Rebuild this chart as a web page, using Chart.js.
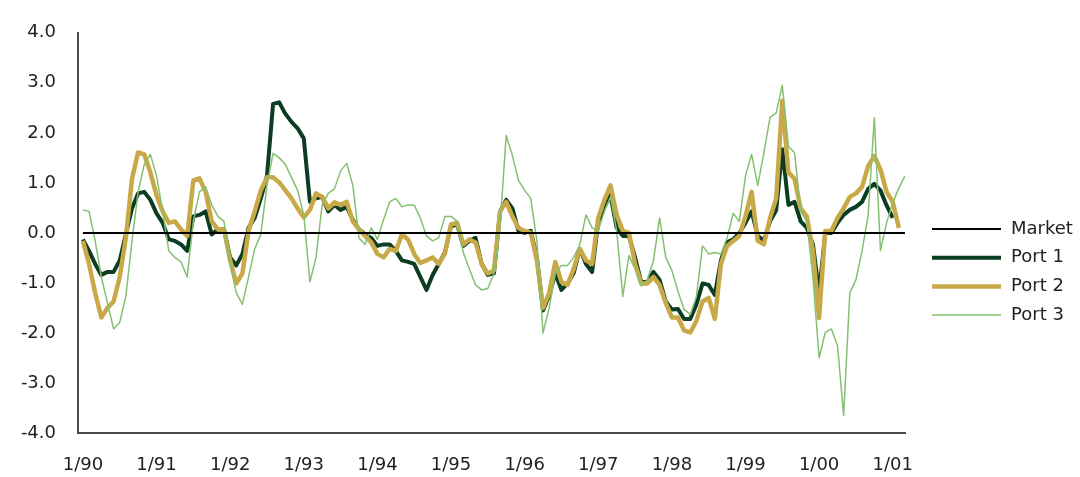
<!DOCTYPE html>
<html>
<head>
<meta charset="utf-8">
<script src="https://cdn.jsdelivr.net/npm/chart.js@4.4.1/dist/chart.umd.min.js"></script>
<style>
  html, body { margin: 0; padding: 0; background: #fff; }
  #wrap { width: 1080px; height: 477px; position: relative; }
</style>
</head>
<body>
<div id="wrap"><canvas id="chart"></canvas></div>
<script>
// monthly excess returns vs market, month index 0 = 1/90
const tickMonths = [0, 12, 24, 36, 48, 60, 72, 84, 96, 108, 120, 132];
const tickLabels = ['1/90', '1/91', '1/92', '1/93', '1/94', '1/95', '1/96', '1/97', '1/98', '1/99', '1/00', '1/01'];

// market is the benchmark, flat at zero over the whole period
const marketMonths = [0, 134];
const market = [0, 0];

const port1 = [
  -0.13, -0.36, -0.62, -0.84, -0.78, -0.78, -0.55, -0.03, 0.49, 0.79, 0.82, 0.66,
  0.39, 0.20, -0.13, -0.16, -0.23, -0.36, 0.33, 0.36, 0.43, -0.03, 0.07, 0.07,
  -0.49, -0.65, -0.42, 0.10, 0.30, 0.69, 1.14, 2.58, 2.61, 2.38, 2.22, 2.09,
  1.89, 0.62, 0.69, 0.72, 0.43, 0.56, 0.46, 0.52, 0.26, 0.07, -0.03, -0.10,
  -0.26, -0.23, -0.23, -0.36, -0.55, -0.58, -0.62, -0.88, -1.14, -0.84, -0.62, -0.39,
  0.13, 0.17, -0.26, -0.16, -0.10, -0.62, -0.84, -0.81, 0.43, 0.66, 0.49, 0.04,
  0.00, 0.04, -0.49, -1.55, -1.25, -0.81, -1.14, -1.01, -0.80, -0.32, -0.62, -0.78,
  0.23, 0.52, 0.75, 0.10, -0.06, -0.06, -0.49, -0.98, -0.98, -0.78, -0.94, -1.37,
  -1.53, -1.52, -1.72, -1.72, -1.43, -1.01, -1.04, -1.24, -0.55, -0.19, -0.13, 0.00,
  0.20, 0.43, -0.06, -0.16, 0.23, 0.45, 1.67, 0.56, 0.62, 0.23, 0.10, -0.23,
  -1.20, 0.00, 0.00, 0.20, 0.36, 0.46, 0.52, 0.62, 0.88, 0.98, 0.85, 0.55,
  0.30
];

const port2 = [
  -0.16, -0.62, -1.20, -1.69, -1.50, -1.37, -0.88, -0.10, 1.08, 1.61, 1.57, 1.21,
  0.75, 0.43, 0.20, 0.23, 0.07, -0.06, 1.05, 1.09, 0.82, 0.23, 0.07, 0.07,
  -0.55, -1.01, -0.81, 0.04, 0.43, 0.85, 1.11, 1.11, 1.01, 0.85, 0.69, 0.49,
  0.31, 0.46, 0.79, 0.72, 0.49, 0.61, 0.56, 0.62, 0.23, 0.07, -0.06, -0.19,
  -0.42, -0.49, -0.32, -0.36, -0.03, -0.13, -0.42, -0.60, -0.55, -0.49, -0.62, -0.42,
  0.17, 0.20, -0.23, -0.13, -0.19, -0.62, -0.81, -0.75, 0.43, 0.62, 0.33, 0.10,
  0.04, 0.00, -0.55, -1.50, -1.20, -0.58, -0.98, -1.04, -0.72, -0.32, -0.55, -0.62,
  0.30, 0.66, 0.95, 0.36, 0.04, 0.00, -0.62, -1.01, -1.01, -0.88, -1.04, -1.40,
  -1.69, -1.69, -1.95, -1.99, -1.76, -1.37, -1.30, -1.72, -0.62, -0.26, -0.16, -0.06,
  0.33, 0.82, -0.16, -0.23, 0.30, 0.69, 2.64, 1.21, 1.08, 0.49, 0.33, -0.36,
  -1.70, 0.04, 0.04, 0.30, 0.49, 0.72, 0.79, 0.92, 1.34, 1.54, 1.27, 0.82,
  0.62, 0.10
];

const port3 = [
  0.46, 0.43, -0.16, -0.88, -1.40, -1.92, -1.79, -1.27, -0.16, 0.82, 1.37, 1.57,
  1.14, 0.43, -0.36, -0.49, -0.58, -0.88, 0.23, 0.82, 0.92, 0.56, 0.33, 0.23,
  -0.62, -1.20, -1.43, -0.88, -0.32, -0.03, 0.95, 1.59, 1.50, 1.37, 1.11, 0.85,
  0.36, -0.98, -0.49, 0.56, 0.79, 0.88, 1.24, 1.39, 0.95, -0.10, -0.23, 0.10,
  -0.13, 0.26, 0.62, 0.69, 0.52, 0.56, 0.56, 0.30, -0.06, -0.16, -0.10, 0.33,
  0.33, 0.23, -0.39, -0.72, -1.04, -1.14, -1.11, -0.81, 0.17, 1.95, 1.55, 1.05,
  0.85, 0.69, -0.16, -2.00, -1.50, -0.81, -0.65, -0.65, -0.49, -0.23, 0.36, 0.10,
  0.04, 0.43, 0.72, 0.04, -1.27, -0.45, -0.72, -1.06, -0.94, -0.55, 0.30, -0.49,
  -0.75, -1.17, -1.53, -1.63, -1.27, -0.26, -0.42, -0.39, -0.42, -0.10, 0.39, 0.23,
  1.14, 1.57, 0.95, 1.60, 2.31, 2.40, 2.95, 1.73, 1.60, 0.43, 0.23, -0.90,
  -2.50, -1.99, -1.92, -2.25, -3.65, -1.20, -0.94, -0.36, 0.36, 2.30, -0.35, 0.20,
  0.60, 0.90, 1.14
];

const toPoints = (vals, xs) => vals.map((v, i) => ({ x: xs ? xs[i] : i, y: v }));

// right-hand legend with line samples, like the original
const sideLegend = {
  id: 'sideLegend',
  afterDraw(chart) {
    const ctx = chart.ctx;
    ctx.save();
    ctx.font = '18px "DejaVu Sans"';
    ctx.textBaseline = 'middle';
    ctx.fillStyle = '#222';
    chart.data.datasets.forEach((ds, i) => {
      const y = 229 + i * 28.7;
      ctx.strokeStyle = ds.borderColor;
      ctx.lineWidth = ds.borderWidth;
      ctx.beginPath();
      ctx.moveTo(932, y);
      ctx.lineTo(1001, y);
      ctx.stroke();
      ctx.fillText(ds.label, 1011, y);
    });
    ctx.restore();
  }
};

const ctx = document.getElementById('chart');
new Chart(ctx, {
  type: 'line',
  data: {
    datasets: [
      { label: 'Market', data: toPoints(market, marketMonths), borderColor: '#000000', borderWidth: 2, order: 0 },
      { label: 'Port 1', data: toPoints(port1), borderColor: '#0b3d22', borderWidth: 4, order: 3 },
      { label: 'Port 2', data: toPoints(port2), borderColor: '#c9a947', borderWidth: 4.5, order: 2 },
      { label: 'Port 3', data: toPoints(port3), borderColor: '#84c070', borderWidth: 1.5, order: 1 }
    ]
  },
  options: {
    responsive: true,
    maintainAspectRatio: false,
    animation: false,
    elements: {
      point: { radius: 0 },
      line: { tension: 0, borderJoinStyle: 'round' }
    },
    layout: { padding: { top: 24, right: 175, left: 0, bottom: 0 } },
    plugins: {
      legend: { display: false },
      tooltip: { enabled: false }
    },
    scales: {
      x: {
        type: 'linear',
        min: -0.8,
        max: 134,
        grid: { display: false, drawTicks: false },
        border: { display: true, color: '#4a4a4a', width: 2 },
        afterBuildTicks: (scale) => { scale.ticks = tickMonths.map(value => ({ value })); },
        afterFit: (scale) => { scale.height = 44; },
        ticks: {
          autoSkip: false,
          maxRotation: 0,
          padding: 22,
          color: '#222',
          font: { family: 'DejaVu Sans', size: 18 },
          callback: (value) => tickLabels[tickMonths.indexOf(value)]
        }
      },
      y: {
        min: -4,
        max: 4,
        grid: { display: false, drawTicks: false },
        border: { display: true, color: '#4a4a4a', width: 2 },
        afterFit: (scale) => { scale.width = 78; },
        ticks: {
          stepSize: 1,
          padding: 22,
          color: '#222',
          font: { family: 'DejaVu Sans', size: 18 },
          callback: (value) => value.toFixed(1)
        }
      }
    }
  },
  plugins: [sideLegend]
});
</script>
</body>
</html>
